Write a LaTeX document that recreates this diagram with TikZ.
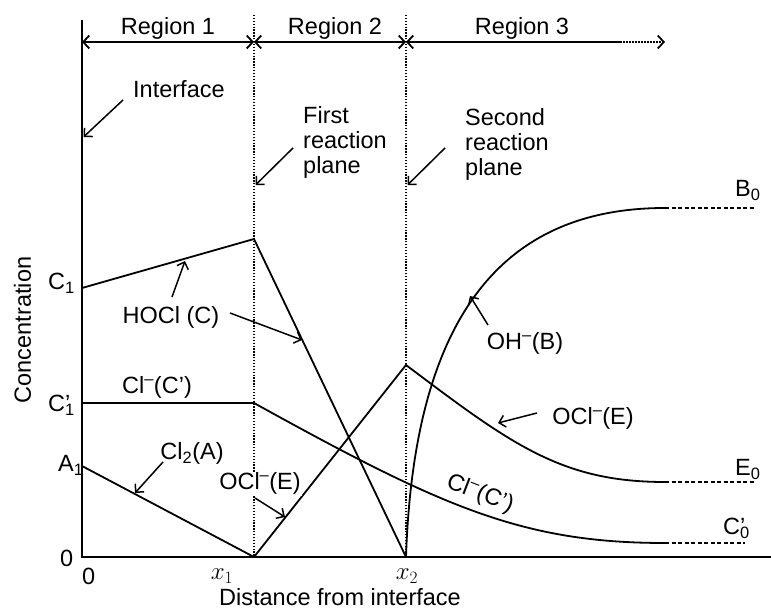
\documentclass[tikz,border=0pt]{standalone}
\usepackage{fontspec}
\setmainfont{Liberation Sans}
\usetikzlibrary{arrows.meta}
\usetikzlibrary{positioning}

\newcommand{\ionminus}{\textsuperscript{\textendash}}
\newcommand{\primesub}[2]{#1\makebox[0pt][l]{’}\textsubscript{#2}}

\begin{document}
\begin{tikzpicture}[x=10pt,y=10pt,
  axis/.style={line width=1.9pt},
  curve/.style={line width=1.8pt},
  tail/.style={line width=1.7pt,dash pattern=on 4pt off 2.5pt},
  plane/.style={line width=1.3pt,dash pattern=on 1.3pt off 1.6pt},
  span/.style={line width=1.8pt,{Straight Barb[length=6pt,width=13pt]}-{Straight Barb[length=6pt,width=13pt]}},
  pointer/.style={line width=1.5pt,-{Straight Barb[length=6pt,width=12pt]}},
  lbl/.style={font=\fontsize{23.5}{25}\selectfont,inner sep=0pt}]
  \useasboundingbox (-8.2,-5.3) rectangle (68.9,55.7);

  % axes
  \coordinate (origin) at (0,0);
  \coordinate (ytop) at (0,53.7);
  \coordinate (xend) at (68.9,0);
  \draw[axis] (ytop) -- (origin) -- (xend);

  % reaction planes
  \coordinate (x1) at (17.2,0);
  \coordinate (x2) at (32.4,0);
  \draw[plane] (17.2,54.2) -- (x1);
  \draw[plane] (32.4,54.2) -- (x2);

  % regions
  \coordinate (r0) at (0,51.5);
  \coordinate (r1) at (17.2,51.5);
  \coordinate (r2) at (32.4,51.5);
  \coordinate (r3) at (53.8,51.5);
  \coordinate (r4) at (58.3,51.5);
  \draw[span] (r0) -- (r1);
  \draw[span] (r1) -- (r2);
  \draw[line width=1.8pt,{Straight Barb[length=6pt,width=13pt]}-] (r2) -- (r3);
  \draw[line width=1.8pt,dash pattern=on 1.5pt off 1.5pt,-{Straight Barb[length=6pt,width=13pt]}] (r3) -- (r4);
  \node[lbl,anchor=base] (reg1) at (8.6,52.2) {Region 1};
  \node[lbl,anchor=base] (reg2) at (25.3,52.2) {Region 2};
  \node[lbl,anchor=base] (reg3) at (44,52.2) {Region 3};

  % planes labelled
  \node[lbl,anchor=base west] (ifc) at (5.1,45.9) {Interface};
  \node[lbl,anchor=north west,align=left] (first) at (22.1,45.1) {First\\reaction\\plane};
  \node[lbl,anchor=north west,align=left] (second) at (38.3,44.9) {Second\\reaction\\plane};
  \coordinate (ifcfrom) at (4.1,45.7);
  \coordinate (ifcto) at (0.15,42);
  \coordinate (firstfrom) at (21.1,40.9);
  \coordinate (firstto) at (17.35,37.2);
  \coordinate (secfrom) at (36.3,40.9);
  \coordinate (secto) at (32.55,37.2);
  \draw[pointer] (ifcfrom) -- (ifcto);
  \draw[pointer] (firstfrom) -- (firstto);
  \draw[pointer] (secfrom) -- (secto);

  % HOCl
  \coordinate (c1) at (0,26.9);
  \coordinate (cpeak) at (17.2,31.8);
  \draw[curve] (c1) -- (cpeak) -- (x2);
  % Cl2
  \coordinate (a1) at (0,9.1);
  \draw[curve] (a1) -- (x1);
  % Cl-
  \coordinate (cp1) at (0,15.4);
  \coordinate (cp1end) at (17.2,15.4);
  \coordinate (cp0) at (58.3,1.4);
  \coordinate (cp0end) at (66.3,1.4);
  \draw[curve] (cp1) -- (cp1end) .. controls (36,5) and (44,1.4) .. (cp0);
  \draw[tail] (cp0) -- (cp0end);
  % OCl-
  \coordinate (epeak) at (32.4,19.2);
  \coordinate (e0) at (58.3,7.5);
  \coordinate (e0end) at (67.3,7.5);
  \draw[curve] (x1) -- (epeak) .. controls (43,11.2) and (48,7.5) .. (e0);
  \draw[tail] (e0) -- (e0end);
  % OH-
  \coordinate (b0) at (58.3,34.9);
  \coordinate (b0end) at (67.3,34.9);
  \draw[curve] (x2) .. controls (33.2,24) and (42,34.9) .. (b0);
  \draw[tail] (b0) -- (b0end);

  % curve labels
  \node[lbl,anchor=base] (hocl) at (8.9,23.35) {HOCl (C)};
  \node[lbl,anchor=base] (clleft) at (7.5,16.35) {Cl\ionminus(C’)};
  \node[lbl,anchor=base] (cl2) at (11,9.7) {Cl\textsubscript{2}(A)};
  \node[lbl,anchor=base,fill=white,inner sep=1pt] (oclleft) at (17.8,6.7) {OCl\ionminus(E)};
  \node[lbl,anchor=base] (oclright) at (51.1,13.2) {OCl\ionminus(E)};
  \node[lbl,anchor=base] (oh) at (44.3,20.7) {OH\ionminus(B)};
  \node[lbl,rotate=-21] (clright) at (39.8,6.3) {Cl\ionminus(C’)};

  \coordinate (hoclfrom) at (9,26);
  \coordinate (hoclto) at (10.3,29.6);
  \coordinate (hoclfrom2) at (14.8,24.4);
  \coordinate (hoclto2) at (22,21.7);
  \coordinate (cl2from) at (8.1,9.5);
  \coordinate (cl2to) at (5.3,6.4);
  \coordinate (oclfrom) at (17.3,5.9);
  \coordinate (oclto) at (20.3,4.0);
  \coordinate (oclfrom2) at (45.5,14.4);
  \coordinate (oclto2) at (41.6,13.4);
  \coordinate (ohfrom) at (40.6,23.2);
  \coordinate (ohto) at (38.8,26.1);
  \draw[pointer] (hoclfrom) -- (hoclto);
  \draw[pointer] (hoclfrom2) -- (hoclto2);
  \draw[pointer] (cl2from) -- (cl2to);
  \draw[pointer] (oclfrom) -- (oclto);
  \draw[pointer] (oclfrom2) -- (oclto2);
  \draw[pointer] (ohfrom) -- (ohto);

  % end values
  \node[lbl,anchor=base west] (b0lbl) at (65.3,36) {B\textsubscript{0}};
  \node[lbl,anchor=base west] (e0lbl) at (65.3,8.1) {E\textsubscript{0}};
  \node[lbl,anchor=base west] (cp0lbl) at (64.1,2.2) {\primesub{C}{0}};

  % axis values
  \node[lbl,anchor=base west] (c1lbl) at (-3.4,26.7) {C\textsubscript{1}};
  \node[lbl,anchor=base west] (cp1lbl) at (-3.4,14.5) {\primesub{C}{1}};
  \node[lbl,anchor=base west] (a1lbl) at (-2.4,8.5) {A\textsubscript{1}};
  \node[lbl,anchor=base west] (yzero) at (-2.2,-1.0) {0};
  \node[lbl,anchor=base west] (xzero) at (0,-2.8) {0};
  \node[lbl,anchor=base] (x1lbl) at (14,-2.3) {$x_1$};
  \node[lbl,anchor=base] (x2lbl) at (32.5,-2.3) {$x_2$};
  \node[lbl,anchor=base] (xtitle) at (25.8,-4.85) {Distance from interface};
  \node[lbl,rotate=90] (ytitle) at (-5.95,22.7) {Concentration};
\end{tikzpicture}
\end{document}
